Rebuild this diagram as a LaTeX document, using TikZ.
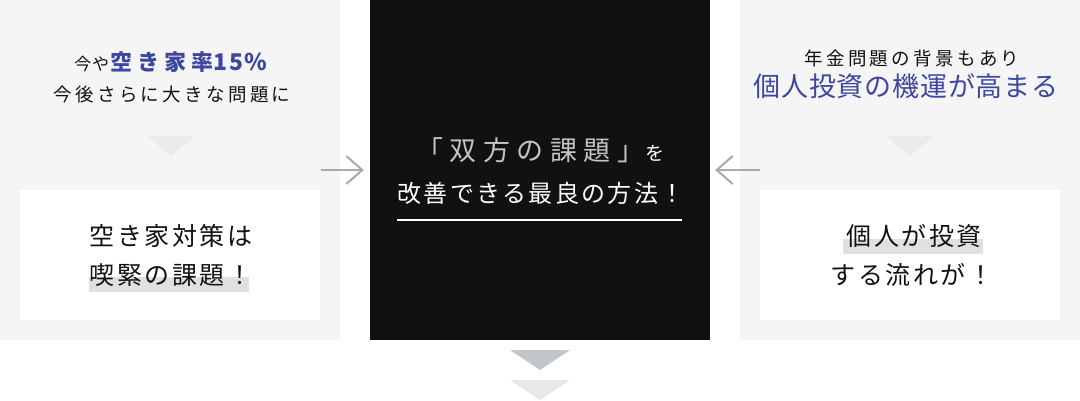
\documentclass[tikz,border=0pt]{standalone}
\usepackage{fontspec}
\usepackage{xcolor}
\usepackage{tikz}
\usetikzlibrary{arrows.meta}
\newfontfamily\jpfont{Noto Sans CJK JP}
\definecolor{panelgray}{HTML}{F5F5F5}
\definecolor{markgray}{HTML}{E0E0E0}
\definecolor{tipgray}{HTML}{EAEBED}
\definecolor{tipdark}{HTML}{C2C6CA}
\definecolor{tiplight}{HTML}{E6E8EA}
\definecolor{accentblue}{HTML}{3D479F}
\definecolor{linkgray}{HTML}{AAAAAA}
\definecolor{titlegray}{HTML}{C4C4C4}
\definecolor{inkblack}{HTML}{111111}
\newcommand{\pointer}[4]{\fill [#4] (#1-#3,#2) -- (#1+#3,#2) -- (#1,#2+20) -- cycle}
\newcommand{\jp}[2]{\jpfont\addfontfeature{LetterSpace=#2}\fontsize{#1}{#1}\selectfont}

\begin{document}
\begin{tikzpicture}[x=1pt,y=-1pt,
    panel/.style={fill=panelgray,minimum width=340pt,minimum height=340pt,inner sep=0pt},
    card/.style={fill=white,minimum width=300pt,minimum height=130pt,inner sep=0pt},
    label/.style={inner sep=0pt,anchor=base,text=inkblack},
    flow/.style={linkgray,line width=2pt,-{Straight Barb[length=16pt,width=28pt]}}]
    \useasboundingbox (0,0) rectangle (1080,400);

    % three columns
    \node[panel] (panelL) at (170,170) {};
    \node[panel,fill=inkblack] (panelC) at (540,170) {};
    \node[panel] (panelR) at (910,170) {};
    \node[card] (cardL) at (170,255) {};
    \node[card] (cardR) at (910,255) {};

    % left column
    \node[label] (issueA) at (171,70.5) {\jp{17}{5}今や\hspace{1pt}{\color{accentblue}\jp{22}{23}\bfseries 空き家率{\jp{23}{8}\bfseries 15\%}}};
    \node[label] (issueB) at (172,101) {\jp{18.5}{18}今後さらに大きな問題に};
    \pointer{171}{136}{24}{tipgray};
    \fill[markgray] (89,277) rectangle (249,292);
    \node[label] (caseA) at (171,245.5) {\jp{25}{10}空き家対策は};
    \node[label] (caseB) at (171,284.5) {\jp{25}{10}喫緊の課題！};

    % right column
    \node[label] (chanceA) at (912,65) {\jp{18.5}{18}年金問題の背景もあり};
    \node[label] (chanceB) at (906,96) {\color{accentblue}\jp{27}{3}個人投資の機運が高まる};
    \pointer{910}{136}{24}{tipgray};
    \fill[markgray] (843,239) rectangle (983,254);
    \node[label] (caseC) at (914,245.5) {\jp{25}{10}個人が投資};
    \node[label] (caseD) at (912,284.5) {\jp{25}{10}する流れが！};

    % center column
    \node[label,anchor=base west] (titleA) at (416,160) {{\color{titlegray}\jp{27}{24}「双方の課題」}\hspace{1pt}{\color{white}\jp{19}{0}を}};
    \node[label,text=white] (titleB) at (541,202) {\jp{24}{10}改善できる最良の方法！};
    \draw[white,line width=2pt] (397,220) -- (682,220);

    \draw[flow,shorten <=-19pt,shorten >=6pt] (panelL.east) -- (panelC.west);
    \draw[flow,shorten <=-20pt,shorten >=5pt] (panelR.west) -- (panelC.east);

    \pointer{540}{350}{30}{tipdark};
    \pointer{540}{380}{30}{tiplight};
\end{tikzpicture}
\end{document}
